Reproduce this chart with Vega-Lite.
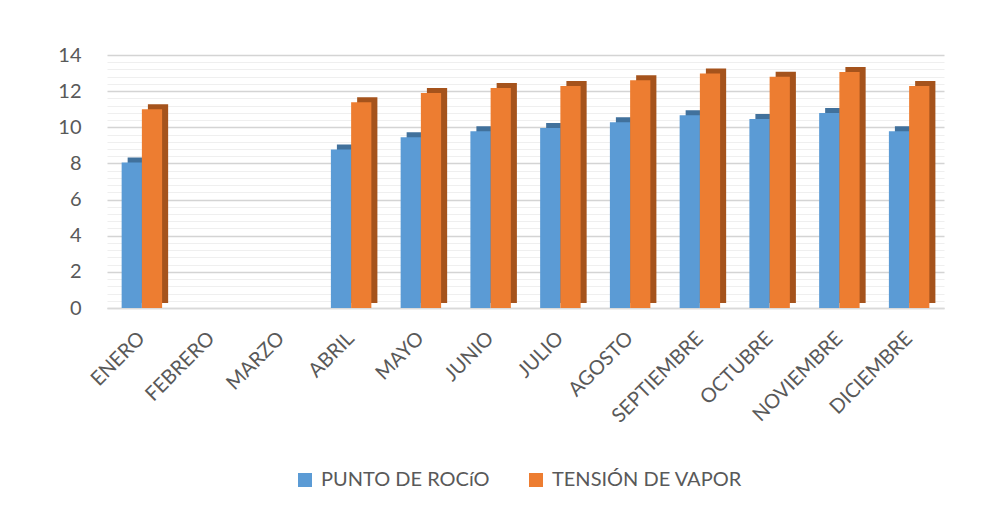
{
  "$schema": "https://vega.github.io/schema/vega-lite/v6.json",
  "width": 837,
  "height": 253,
  "padding": {"left": 57, "top": 45, "right": 10, "bottom": 10},
  "background": "white",
  "config": {
    "font": "Lato",
    "view": {"stroke": null},
    "axis": {"labelColor": "#595959", "labelFontSize": 20, "ticks": false, "title": null}
  },
  "data": {
    "values": [
      {"mes": "ENERO", "serie": "PUNTO DE ROCíO", "valor": 8.05},
      {"mes": "ENERO", "serie": "TENSIÓN DE VAPOR", "valor": 11.0},
      {"mes": "ABRIL", "serie": "PUNTO DE ROCíO", "valor": 8.77},
      {"mes": "ABRIL", "serie": "TENSIÓN DE VAPOR", "valor": 11.38},
      {"mes": "MAYO", "serie": "PUNTO DE ROCíO", "valor": 9.45},
      {"mes": "MAYO", "serie": "TENSIÓN DE VAPOR", "valor": 11.9},
      {"mes": "JUNIO", "serie": "PUNTO DE ROCíO", "valor": 9.78},
      {"mes": "JUNIO", "serie": "TENSIÓN DE VAPOR", "valor": 12.17},
      {"mes": "JULIO", "serie": "PUNTO DE ROCíO", "valor": 9.96},
      {"mes": "JULIO", "serie": "TENSIÓN DE VAPOR", "valor": 12.29},
      {"mes": "AGOSTO", "serie": "PUNTO DE ROCíO", "valor": 10.28},
      {"mes": "AGOSTO", "serie": "TENSIÓN DE VAPOR", "valor": 12.6},
      {"mes": "SEPTIEMBRE", "serie": "PUNTO DE ROCíO", "valor": 10.66},
      {"mes": "SEPTIEMBRE", "serie": "TENSIÓN DE VAPOR", "valor": 12.97},
      {"mes": "OCTUBRE", "serie": "PUNTO DE ROCíO", "valor": 10.46},
      {"mes": "OCTUBRE", "serie": "TENSIÓN DE VAPOR", "valor": 12.79},
      {"mes": "NOVIEMBRE", "serie": "PUNTO DE ROCíO", "valor": 10.79},
      {"mes": "NOVIEMBRE", "serie": "TENSIÓN DE VAPOR", "valor": 13.06},
      {"mes": "DICIEMBRE", "serie": "PUNTO DE ROCíO", "valor": 9.78},
      {"mes": "DICIEMBRE", "serie": "TENSIÓN DE VAPOR", "valor": 12.29}
    ]
  },
  "encoding": {
    "x": {
      "field": "mes",
      "type": "nominal",
      "scale": {
        "domain": ["ENERO", "FEBRERO", "MARZO", "ABRIL", "MAYO", "JUNIO", "JULIO", "AGOSTO", "SEPTIEMBRE", "OCTUBRE", "NOVIEMBRE", "DICIEMBRE"],
        "paddingInner": 0.42,
        "paddingOuter": 0.21
      },
      "axis": {
        "labelAngle": -45,
        "labelAlign": "right",
        "labelBaseline": "middle",
        "labelPadding": 27,
        "labelOverlap": false,
        "domainColor": "#d9d9d9",
        "domainWidth": 1.5,
        "grid": false
      }
    },
    "y": {
      "field": "valor",
      "type": "quantitative",
      "scale": {"domain": [0, 14], "nice": false},
      "axis": {
        "domain": false,
        "labelPadding": 26,
        "labelOverlap": false,
        "values": [0, 0.4, 0.8, 1.2, 1.6, 2, 2.4, 2.8, 3.2, 3.6, 4, 4.4, 4.8, 5.2, 5.6, 6, 6.4, 6.8, 7.2, 7.6, 8, 8.4, 8.8, 9.2, 9.6, 10, 10.4, 10.8, 11.2, 11.6, 12, 12.4, 12.8, 13.2, 13.6, 14],
        "labelExpr": "abs(datum.value - round(datum.value / 2) * 2) < 0.01 ? format(datum.value, 'd') : ''",
        "gridColor": {"condition": {"test": "abs(datum.value - round(datum.value / 2) * 2) < 0.01", "value": "#d4d4d4"}, "value": "#efefef"},
        "gridWidth": {"condition": {"test": "abs(datum.value - round(datum.value / 2) * 2) < 0.01", "value": 1.5}, "value": 1}
      }
    }
  },
  "layer": [
    {
      "mark": {"type": "bar", "yOffset": -5},
      "encoding": {
        "xOffset": {
          "field": "serie",
          "type": "nominal",
          "scale": {"domain": ["PUNTO DE ROCíO", "TENSIÓN DE VAPOR"], "range": [6, 46.5], "paddingInner": 0, "paddingOuter": 0}
        },
        "fill": {
          "condition": {"test": "datum.serie === 'PUNTO DE ROCíO'", "value": "#41719C"},
          "value": "#A5531C"
        }
      }
    },
    {
      "mark": {"type": "bar"},
      "encoding": {
        "xOffset": {
          "field": "serie",
          "type": "nominal",
          "scale": {"domain": ["PUNTO DE ROCíO", "TENSIÓN DE VAPOR"]}
        },
        "color": {
          "field": "serie",
          "type": "nominal",
          "scale": {"domain": ["PUNTO DE ROCíO", "TENSIÓN DE VAPOR"], "range": ["#5B9BD5", "#ED7D31"]},
          "legend": {
            "title": null,
            "orient": "none",
            "direction": "horizontal",
            "legendX": 188,
            "legendY": 415,
            "symbolType": "square",
            "symbolSize": 196,
            "symbolStrokeWidth": 0,
            "labelFontSize": 20,
            "labelColor": "#595959",
            "labelOffset": 6,
            "columnPadding": 36,
            "labelLimit": 300
          }
        }
      }
    }
  ],
  "resolve": {"scale": {"xOffset": "independent"}}
}
